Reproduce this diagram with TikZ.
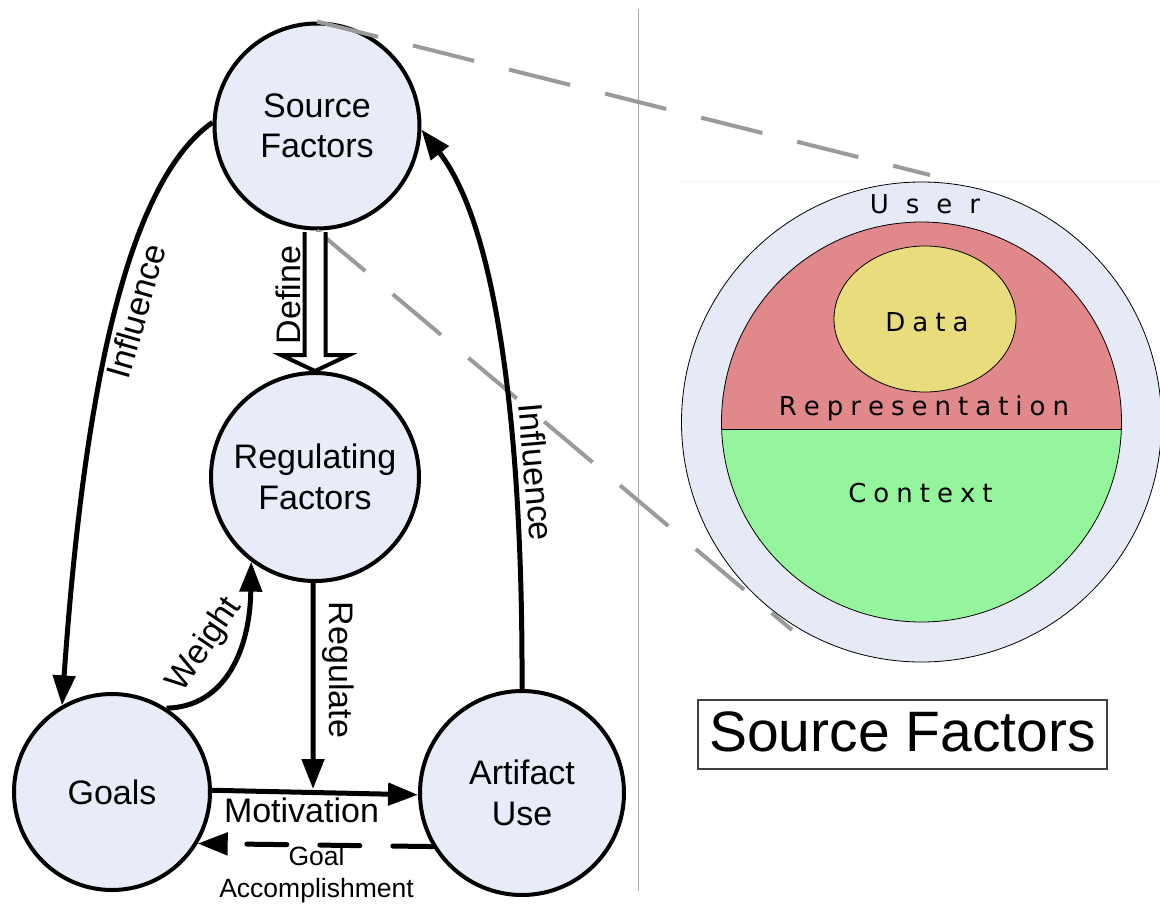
\documentclass[tikz,border=0pt]{standalone}
\usepackage{fontspec}
\setmainfont{Liberation Sans}
\newfontfamily\dejavu{DejaVu Sans}
\usetikzlibrary{arrows.meta,calc}

\definecolor{nodefill}{HTML}{E8ECF8}
\definecolor{ringfill}{HTML}{E6EAF6}
\definecolor{repred}{HTML}{E0888A}
\definecolor{datayellow}{HTML}{E8DC7C}
\definecolor{ctxgreen}{HTML}{94F59C}
\definecolor{zoomgray}{HTML}{9A9A9A}
\definecolor{sepgray}{HTML}{A8A8A8}

% letter-spaced text: #1 = half gap, #2 = word
\newcommand\spacedtext[2]{\def\spkern{#1}\spacedloop#2\relax}
\def\spacedloop#1{\ifx\relax#1\else\kern\spkern\relax#1\kern\spkern\relax\expandafter\spacedloop\fi}

\begin{document}
\begin{tikzpicture}[x=1pt,y=-1pt,
  factor/.style={circle, draw=black, line width=4pt, fill=nodefill, inner sep=0pt,
                 align=center, font=\fontsize{34}{40.5}\selectfont},
  flow/.style={line width=5pt, -{Triangle[length=30pt,width=22pt]}},
  lbl/.style={font=\fontsize{34}{40}\selectfont, inner sep=0pt},
  smalllbl/.style={font=\fontsize{26.5}{30}\selectfont, inner sep=0pt, anchor=base},
  zoomline/.style={draw=zoomgray, line width=4pt, dash pattern=on 63pt off 36pt},
  layer/.style={font=\dejavu\fontsize{26}{30}\selectfont, inner sep=0pt, anchor=base},
  thin/.style={draw=black, line width=0.8pt}]

\useasboundingbox (0,0) rectangle (1160,903);

% ---------- model circles ----------
\node[factor, minimum size=205pt] (SF)    at (317,126) {Source\\Factors};
\node[factor, minimum size=208pt] (RF)    at (315,477) {Regulating\\Factors};
\node[factor, minimum size=196pt] (Goals) at (112,792) {Goals};
\node[factor, minimum size=204pt] (Art)   at (522,793) {Artifact\\Use};

% ---------- separator ----------
\coordinate (sepTop) at (638.5,9);
\coordinate (sepBot) at (638.5,891);
\draw[draw=sepgray, line width=1.5pt] (sepTop) -- (sepBot);

% ---------- detail of the source factors ----------
\coordinate (frameL) at (680,181);
\coordinate (frameR) at (1160,181);
\draw[draw=black!6, line width=1pt] (frameL) -- (frameR);

\coordinate (U) at (921.5,422);
\draw[thin, fill=ringfill] (U) circle[radius=240pt];
\begin{scope}
  \clip (U) circle[radius=200pt];
  \fill[repred]   ($(U)+(-210,-210)$) rectangle ($(U)+(210,7)$);
  \fill[ctxgreen] ($(U)+(-210,7)$)    rectangle ($(U)+(210,210)$);
\end{scope}
\draw[thin] (U) circle[radius=200pt];
\draw[thin] ($(U)+(-199.9,7)$) -- ($(U)+(199.9,7)$);
\draw[thin, fill=datayellow] (925,319) ellipse[x radius=91pt, y radius=73pt];

\node[layer] (userlbl) at (925,213)   {\spacedtext{8.5pt}{User}};
\node[layer] (datalbl) at (927,331)   {\spacedtext{3.5pt}{Data}};
\node[layer] (replbl)  at (924,415)   {\spacedtext{3.5pt}{Representation}};
\node[layer] (ctxlbl)  at (920.5,502) {\spacedtext{3.5pt}{Context}};

\node[draw=black!75, line width=1.5pt, minimum width=409pt, minimum height=69pt,
      inner sep=0pt, text depth=6pt, font=\fontsize{57}{60}\selectfont]
      (title) at (902.5,734.5) {Source Factors};

% ---------- zoom lines ----------
\coordinate (zoomA) at (930,175);
\coordinate (zoomB) at (792,630);
\draw[zoomline] (SF.north) -- (zoomA);
\draw[zoomline] (SF.south) -- (zoomB);

% ---------- block arrow: Define ----------
\coordinate (dtop) at (RF.north |- SF.south);
\filldraw[fill=white, draw=black, line width=4pt]
  ($(dtop)+(-10.5,1.5)$) -- ($(RF.north)+(-10.5,-16)$) -- ($(RF.north)+(-34,-16)$)
  -- (RF.north) -- ($(RF.north)+(34,-16)$) -- ($(RF.north)+(10.5,-16)$)
  -- ($(dtop)+(10.5,1.5)$);

% ---------- connectors ----------
\draw[flow] (SF.178) .. controls (115,190) and (80,450) .. (Goals.120);
\draw[flow] (Art.90) .. controls (523,450) and (500,230) .. (SF.358);
\draw[flow] (Goals.57) .. controls (225,707) and (250,650) .. (RF.233);
\coordinate (regtip) at (313,789);
\draw[flow] (RF.269) -- (regtip);
\draw[flow] (Goals.1) -- (Art.181);
\draw[flow, line cap=round, dash pattern=on 40pt off 33pt] (Art.211) -- (Goals.329);

% ---------- connector labels ----------
\node[lbl, rotate=74]  (infL)   at (136,311)   {Influence};
\node[lbl, rotate=-85] (infR)   at (536.5,472) {Influence};
\node[lbl, rotate=90]  (deflbl) at (288.5,295) {Define};
\node[lbl, rotate=-90] (reglbl) at (338.5,670) {Regulate};
\node[lbl, rotate=56]  (wlbl)   at (205,645)   {Weight};
\node[lbl, anchor=base] (motlbl) at (301.5,822) {Motivation};
\node[smalllbl] (goallbl) at (316.5,865) {Goal};
\node[smalllbl] (acclbl)  at (316.5,897) {Accomplishment};

\end{tikzpicture}
\end{document}
